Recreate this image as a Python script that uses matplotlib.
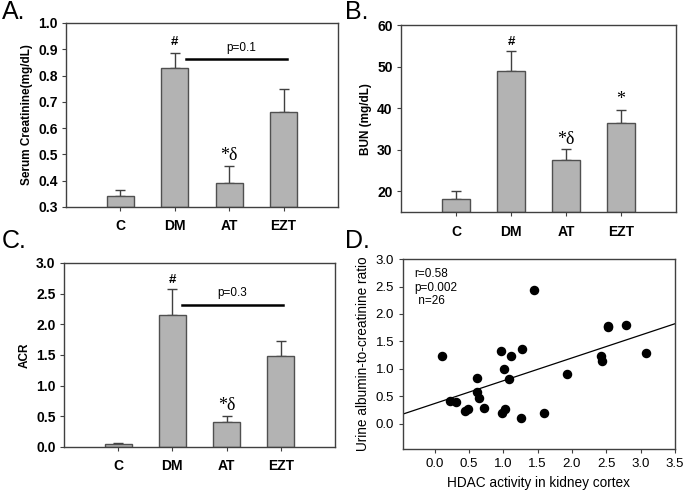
import numpy as np
import matplotlib.pyplot as plt

plt.rcParams['font.family'] = ['Liberation Sans', 'DejaVu Sans']

groups = ['C', 'DM', 'AT', 'EZT']

creat = [0.34, 0.83, 0.39, 0.66]
creat_err = [0.025, 0.055, 0.067, 0.09]

bun = [18.1, 49.0, 27.6, 36.5]
bun_err = [2.0, 4.7, 2.5, 3.1]

acr = [0.05, 2.15, 0.40, 1.48]
acr_err = [0.015, 0.42, 0.10, 0.25]

hdac = [0.11, 0.23, 0.31, 0.45, 0.49, 0.62, 0.62, 0.65, 0.72, 0.96, 0.98, 1.01, 1.02,
        1.08, 1.11, 1.26, 1.28, 1.45, 1.60, 1.93, 2.43, 2.44, 2.53, 2.52, 2.79, 3.08]
ratio = [1.23, 0.41, 0.39, 0.24, 0.26, 0.83, 0.57, 0.47, 0.28, 1.32, 0.20, 1.00, 0.27,
         0.81, 1.24, 0.10, 1.36, 2.44, 0.19, 0.91, 1.24, 1.15, 1.78, 1.77, 1.80, 1.29]

BAR = '#b3b3b3'
EDGE = '#505050'
serif = ['Liberation Serif', 'DejaVu Serif']

fig = plt.figure(figsize=(6.85, 4.92), dpi=100)


def bar_panel(rect, vals, errs, ylim, yticks, fmt, ylabel):
    ax = fig.add_axes(rect)
    x = np.arange(1, len(groups) + 1)
    ax.bar(x, np.array(vals) - ylim[0], bottom=ylim[0], width=0.5, color=BAR,
           edgecolor=EDGE, linewidth=1, zorder=2)
    ax.errorbar(x, vals, yerr=[[0] * len(vals), errs], fmt='none', ecolor='#404040',
                elinewidth=1, capsize=3.5, capthick=1, zorder=1)
    ax.set_xlim(0, 5)
    ax.set_ylim(*ylim)
    ax.set_xticks(x)
    ax.set_xticklabels(groups, fontweight='bold', fontsize=10)
    ax.set_yticks(yticks)
    ax.set_yticklabels([fmt.format(t) for t in yticks], fontweight='bold', fontsize=10)
    ax.set_ylabel(ylabel, fontweight='bold', fontsize=8.5)
    ax.tick_params(direction='out', length=3, width=0.8, color='#404040', pad=3)
    ax.tick_params(axis='x', pad=6)
    for s in ax.spines.values():
        s.set_color('#404040')
        s.set_linewidth(1)
    return ax


# A
axA = bar_panel([0.0964, 0.5793, 0.397, 0.374], creat, creat_err, (0.3, 1.0),
                np.arange(0.3, 1.01, 0.1), '{:.1f}', 'Serum Creatinine(mg/dL)')
axA.text(2, 0.905, '#', ha='center', va='bottom', fontsize=9.5, fontweight='bold')
axA.text(3, 0.465, '*δ', ha='center', va='bottom', fontsize=13, family=serif)
axA.plot([2.2, 4.06], [0.862, 0.862], color='black', lw=1.8)
axA.text(3.22, 0.882, 'p=0.1', ha='center', va='bottom', fontsize=8.5)

# B
axB = bar_panel([0.5854, 0.569, 0.4015, 0.380], bun, bun_err, (15, 60),
                [20, 30, 40, 50, 60], '{:d}', 'BUN (mg/dL)')
axB.text(2, 54.6, '#', ha='center', va='bottom', fontsize=9.5, fontweight='bold')
axB.text(3, 30.4, '*δ', ha='center', va='bottom', fontsize=13, family=serif)
axB.text(4, 40.0, '*', ha='center', va='bottom', fontsize=13, family=serif)

# C
axC = bar_panel([0.0934, 0.0915, 0.3956, 0.374], acr, acr_err, (0, 3.0),
                np.arange(0, 3.01, 0.5), '{:.1f}', 'ACR')
axC.text(2, 2.62, '#', ha='center', va='bottom', fontsize=9.5, fontweight='bold')
axC.text(3, 0.53, '*δ', ha='center', va='bottom', fontsize=13, family=serif)
axC.plot([2.17, 4.05], [2.32, 2.32], color='black', lw=1.8)
axC.text(3.1, 2.42, 'p=0.3', ha='center', va='bottom', fontsize=8.5)

# D
axD = fig.add_axes([0.5883, 0.0874, 0.397, 0.386])
axD.scatter(hdac, ratio, s=34, color='black', zorder=3)
slope, icpt = np.polyfit(hdac, ratio, 1)
xl = np.array([-0.46, 3.5])
axD.plot(xl, slope * xl + icpt, color='black', lw=0.9)
axD.set_xlim(-0.46, 3.5)
axD.set_ylim(-0.46, 3.0)
axD.set_xticks(np.arange(0, 3.51, 0.5))
axD.set_yticks(np.arange(0, 3.01, 0.5))
axD.xaxis.set_major_formatter(plt.FormatStrFormatter('%.1f'))
axD.yaxis.set_major_formatter(plt.FormatStrFormatter('%.1f'))
axD.tick_params(direction='out', length=3, width=0.8, labelsize=9.5, color='#404040')
axD.set_xlabel('HDAC activity in kidney cortex', fontsize=9.8)
axD.set_ylabel('Urine albumin-to-creatinine ratio', fontsize=9.8)
for s in axD.spines.values():
    s.set_color('#404040')
    s.set_linewidth(1)
axD.text(-0.29, 2.83, 'r=0.58\np=0.002\n n=26', ha='left', va='top', fontsize=8.5,
         linespacing=1.15)

# panel letters
for lbl, x, y in [('A.', 0.003, 1.0), ('B.', 0.503, 1.0), ('C.', 0.003, 0.535),
                  ('D.', 0.503, 0.535)]:
    fig.text(x, y, lbl, fontsize=18, va='top', ha='left')

fig.savefig('out.png', dpi=100)
